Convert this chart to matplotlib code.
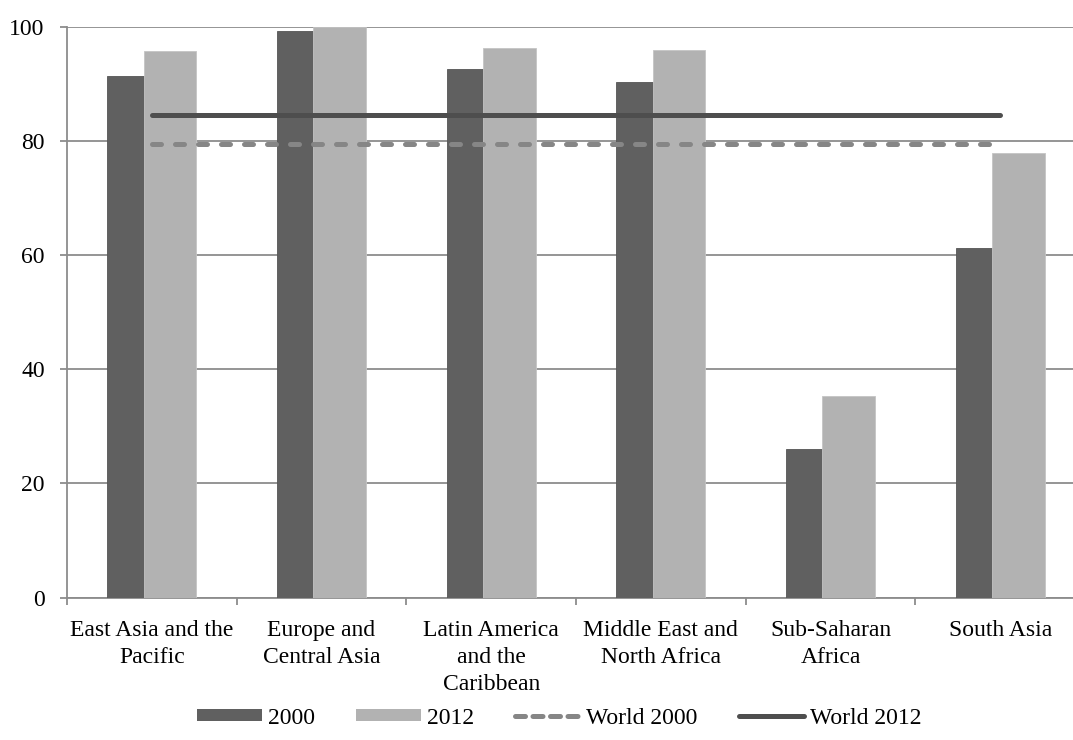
import matplotlib
matplotlib.use("Agg")
import matplotlib.pyplot as plt
from matplotlib.lines import Line2D
from matplotlib.patches import Patch
import numpy as np

plt.rcParams['font.family'] = ['Liberation Serif', 'DejaVu Serif']

categories = ["East Asia and the\nPacific", "Europe and\nCentral Asia",
              "Latin America\nand the\nCaribbean", "Middle East and\nNorth Africa",
              "Sub-Saharan\nAfrica", "South Asia"]
v2000 = [91.3, 99.2, 92.6, 90.3, 26.0, 61.2]
v2012 = [95.7, 100.0, 96.3, 95.9, 35.3, 77.9]
world2000 = 79.4
world2012 = 84.6
yticks = [0, 20, 40, 60, 80, 100]

c2000 = "#606060"
c2012 = "#b2b2b2"
cw2000 = "#868686"
cw2012 = "#4e4e4e"
grid_c = "#8c8c8c"
fs = 17

fig = plt.figure(figsize=(10.73, 7.40), dpi=100)
ax = fig.add_axes([67/1073, (740-597.5)/740, 1018/1073, 570.8/740])

x = np.arange(len(categories))
w = 0.312
off = 0.107
ax.bar(x - off, v2000, width=w, color=c2000, edgecolor="#555555", linewidth=0.6, zorder=3)
ax.bar(x + off, v2012, width=w, color=c2012, edgecolor="#c4c4c4", linewidth=0.6, zorder=4)

xs = [x[0], x[-1]]
ax.plot(xs, [world2012]*2, color=cw2012, lw=3.6, solid_capstyle='round', zorder=5)
ax.plot(xs, [world2000]*2, color=cw2000, lw=3.6, dashes=(1.8, 2.8),
        dash_capstyle='round', zorder=5)

ax.set_xlim(-0.5, len(categories) - 0.5)
ax.set_ylim(0, 100)
ax.set_yticks(yticks)
ax.yaxis.grid(True, color=grid_c, linewidth=1.3, zorder=0)
ax.set_axisbelow(True)

ax.set_xticks(x)
ax.set_xticklabels(categories, fontsize=fs, linespacing=1.38)
ax.set_xticks(np.arange(len(categories) + 1) - 0.5, minor=True)
ax.tick_params(axis='x', which='major', length=0, pad=16)
ax.tick_params(axis='x', which='minor', length=5, width=1.3, color=grid_c, direction='out')
ax.tick_params(axis='y', length=5, width=1.3, color=grid_c, pad=11, labelsize=fs)

for s in ['top', 'right']:
    ax.spines[s].set_visible(False)
for s in ['left', 'bottom']:
    ax.spines[s].set_color(grid_c)
    ax.spines[s].set_linewidth(1.3)

handles = [Patch(facecolor=c2000, edgecolor='none'),
           Patch(facecolor=c2012, edgecolor='none'),
           Line2D([], [], color=cw2000, lw=3.6, dashes=(2.0, 1.5), dash_capstyle='round'),
           Line2D([], [], color=cw2012, lw=3.6, solid_capstyle='round')]
labels = ["2000", "2012", "World 2000", "World 2012"]
fig.legend(handles, labels, loc='center', bbox_to_anchor=(0.521, 22/740),
           ncol=4, frameon=False, fontsize=fs, handlelength=2.75, handleheight=0.42,
           handletextpad=0.25, columnspacing=1.75)

fig.savefig("out.png", dpi=100)
